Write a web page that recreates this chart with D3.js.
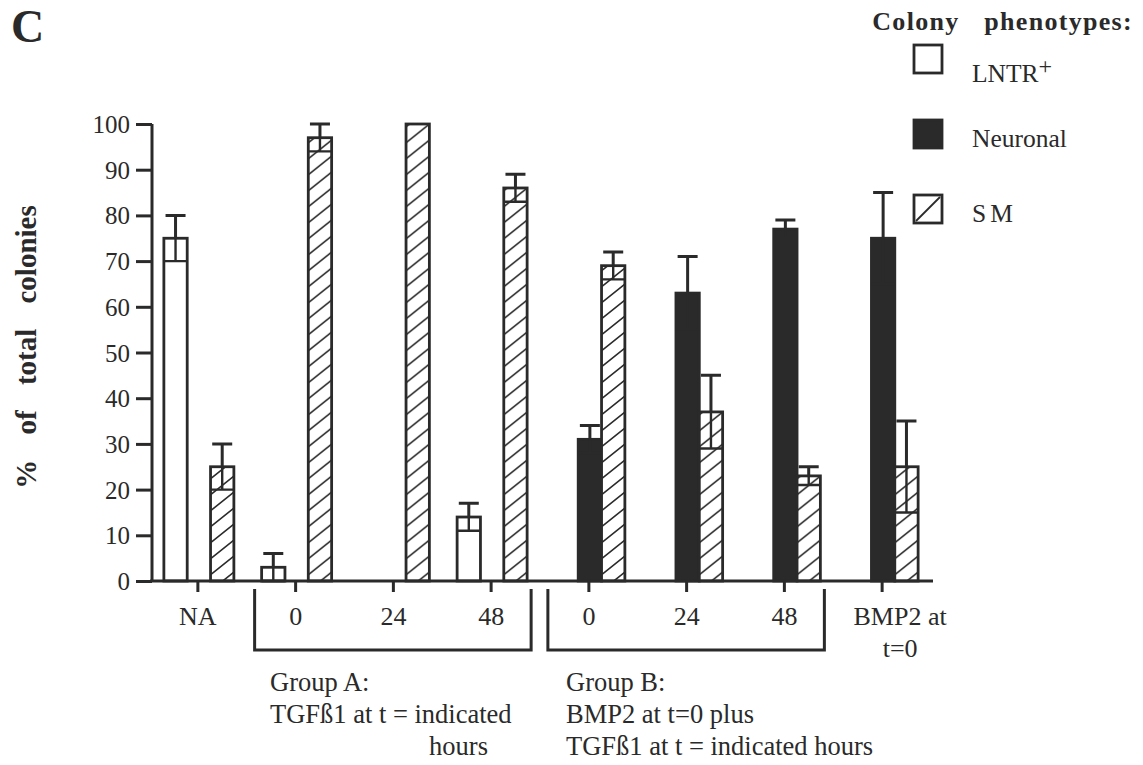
<!DOCTYPE html>
<html>
<head>
<meta charset="utf-8">
<script src="https://cdn.jsdelivr.net/npm/d3@7"></script>
<style>
  html, body { margin: 0; padding: 0; background: #fff; }
  text { font-family: "Liberation Serif", "Times New Roman", serif; fill: #2a2a2a; }
</style>
</head>
<body>
<svg id="chart" width="1143" height="765"></svg>
<script>
// Colony phenotype percentages per condition
const categories = ["NA", "A0", "A24", "A48", "B0", "B24", "B48", "BMP2"];
const tickLabels = [["NA"], ["0"], ["24"], ["48"], ["0"], ["24"], ["48"], ["BMP2 at", "t=0"]];
const series = ["LNTR", "Neuronal", "SM"];
const lntrValues     = [75, 3, 0, 14, null, null, null, null];
const lntrErrors     = [5, 3, 0, 3, null, null, null, null];
const neuronalValues = [null, null, null, null, 31, 63, 77, 75];
const neuronalErrors = [null, null, null, null, 3, 8, 2, 10];
const smValues       = [25, 97, 100, 86, 69, 37, 23, 25];
const smErrors       = [5, 3, 0, 3, 3, 8, 2, 10];
const yTicks = [0, 10, 20, 30, 40, 50, 60, 70, 80, 90, 100];

const ink = "#2a2a2a";
const serif = "Liberation Serif, Times New Roman, serif";
const svg = d3.select("#chart");

const defs = svg.append("defs");
const hatch = defs.append("pattern")
  .attr("id", "hatch").attr("patternUnits", "userSpaceOnUse")
  .attr("width", 20).attr("height", 16);
hatch.append("rect").attr("width", 20).attr("height", 16).attr("fill", "#fff");
hatch.append("path").attr("d", "M-5,20 L25,-4 M-25,20 L5,-4 M15,20 L45,-4")
  .attr("stroke", ink).attr("stroke-width", 1.6);

const x0 = d3.scaleBand().domain(categories).range([149, 931]);
const x1 = d3.scaleBand().domain(series)
  .range([x0.bandwidth() / 2 - 34, x0.bandwidth() / 2 + 36]);
const y = d3.scaleLinear().domain([0, 100]).range([581, 124]);

// Panel letter
svg.append("text").attr("x", 11).attr("y", 42)
  .attr("font-size", 46).attr("font-weight", "bold").text("C");

// Y axis
const yAxis = svg.append("g").attr("transform", "translate(152,0)")
  .call(d3.axisLeft(y).tickValues(yTicks).tickSize(16).tickPadding(6));
yAxis.attr("font-family", serif);
yAxis.select(".domain").attr("stroke", ink).attr("stroke-width", 3)
  .attr("d", `M0,${y(100)}V${y(0)}`);
yAxis.selectAll(".tick line").attr("stroke", ink).attr("stroke-width", 3);
yAxis.selectAll(".tick text").attr("font-size", 25)
  .attr("font-family", serif).attr("fill", ink).attr("dy", "0.34em");

svg.append("text")
  .attr("transform", `translate(36,${347}) rotate(-90)`)
  .attr("text-anchor", "middle").attr("font-size", 29).attr("font-weight", "bold")
  .attr("word-spacing", 18)
  .text("% of total colonies");

// Bars
const rows = categories.map((c, i) => ({
  cat: c,
  bars: [
    { key: "LNTR", v: lntrValues[i], e: lntrErrors[i] },
    { key: "Neuronal", v: neuronalValues[i], e: neuronalErrors[i] },
    { key: "SM", v: smValues[i], e: smErrors[i] }
  ].filter(b => b.v !== null && b.v > 0)
}));

const fills = { LNTR: "#fff", Neuronal: ink, SM: "url(#hatch)" };

const groups = svg.append("g").selectAll("g").data(rows).join("g")
  .attr("transform", d => `translate(${x0(d.cat)},0)`);

groups.selectAll("rect").data(d => d.bars).join("rect")
  .attr("x", d => x1(d.key))
  .attr("y", d => y(d.v))
  .attr("width", x1.bandwidth())
  .attr("height", d => y(0) - y(d.v))
  .attr("fill", d => fills[d.key])
  .attr("stroke", ink).attr("stroke-width", 2.8);

// Error bars: cap above the bar, bar-wide line at the lower limit
const errs = groups.selectAll("g.err").data(d => d.bars.filter(b => b.e > 0)).join("g")
  .attr("class", "err");
errs.append("path")
  .attr("d", d => {
    const cx = x1(d.key) + x1.bandwidth() / 2;
    return `M${cx},${y(d.v)}V${y(d.v + d.e)}M${cx - 10},${y(d.v + d.e)}H${cx + 10}`;
  })
  .attr("stroke", ink).attr("stroke-width", 3).attr("fill", "none");
errs.append("path")
  .attr("d", d => {
    const cx = x1(d.key) + x1.bandwidth() / 2;
    const lo = Math.max(0, d.v - d.e);
    return `M${cx},${y(d.v)}V${y(lo)}M${x1(d.key)},${y(lo)}H${x1(d.key) + x1.bandwidth()}`;
  })
  .attr("stroke", ink).attr("stroke-width", 2.4).attr("fill", "none");

// X axis
const xAxis = svg.append("g").attr("transform", `translate(0,${y(0)})`)
  .call(d3.axisBottom(x0).tickSize(11).tickFormat(""));
xAxis.select(".domain").attr("stroke", ink).attr("stroke-width", 3)
  .attr("d", `M150,0H933`);
xAxis.selectAll(".tick line").attr("stroke", ink).attr("stroke-width", 3);

categories.forEach((c, i) => {
  const lines = tickLabels[i];
  const cx = x0(c) + x0.bandwidth() / 2 + (lines.length > 1 ? 18 : 0);
  lines.forEach((t, j) => {
    svg.append("text").attr("x", cx).attr("y", 625 + j * 32)
      .attr("text-anchor", "middle").attr("font-size", 26).text(t);
  });
});

// Group brackets
function bracket(a, b) {
  const xl = x0(a) + x0.bandwidth() / 2 - 41;
  const xr = x0(b) + x0.bandwidth() / 2 + 40;
  svg.append("path").attr("d", `M${xl},589V650H${xr}V589`)
    .attr("fill", "none").attr("stroke", ink).attr("stroke-width", 3);
}
bracket("A0", "A48");
bracket("B0", "B48");

const noteA = ["Group A:", "TGFß1 at t = indicated"];
noteA.forEach((t, j) => svg.append("text").attr("x", 270).attr("y", 691 + j * 32)
  .attr("font-size", 26.5).text(t));
svg.append("text").attr("x", 488).attr("y", 755).attr("text-anchor", "end")
  .attr("font-size", 26.5).text("hours");
const noteB = ["Group B:", "BMP2 at t=0 plus", "TGFß1 at t = indicated hours"];
noteB.forEach((t, j) => svg.append("text").attr("x", 566).attr("y", 691 + j * 32)
  .attr("font-size", 26.5).text(t));

// Legend
svg.append("text").attr("x", 1133).attr("y", 30).attr("text-anchor", "end")
  .attr("font-size", 26).attr("font-weight", "bold").attr("word-spacing", 17)
  .attr("letter-spacing", 1.3).text("Colony phenotypes:");
const legendItems = [
  { key: "LNTR", y: 45, base: 82, label: "LNTR" },
  { key: "Neuronal", y: 120, base: 147, label: "Neuronal" },
  { key: "SM", y: 195, base: 222, label: "SM" }
];
const legendHatch = defs.append("pattern")
  .attr("id", "hatchLegend").attr("patternUnits", "objectBoundingBox")
  .attr("width", 1).attr("height", 1);
legendHatch.append("rect").attr("width", 28).attr("height", 28).attr("fill", "#fff");
legendHatch.append("path").attr("d", "M2,26 L26,2").attr("stroke", ink).attr("stroke-width", 1.8);
const legendFills = { LNTR: "#fff", Neuronal: ink, SM: "url(#hatchLegend)" };
legendItems.forEach(it => {
  svg.append("rect").attr("x", 914).attr("y", it.y).attr("width", 28).attr("height", 28)
    .attr("fill", legendFills[it.key]).attr("stroke", ink).attr("stroke-width", 2.8);
  const t = svg.append("text").attr("x", 972).attr("y", it.base)
    .attr("font-size", 25.5);
  if (it.key === "SM") t.attr("letter-spacing", 4);
  t.append("tspan").text(it.label);
  if (it.key === "LNTR") t.append("tspan").attr("dy", -8).attr("font-size", 24).text("+");
});
</script>
</body>
</html>
